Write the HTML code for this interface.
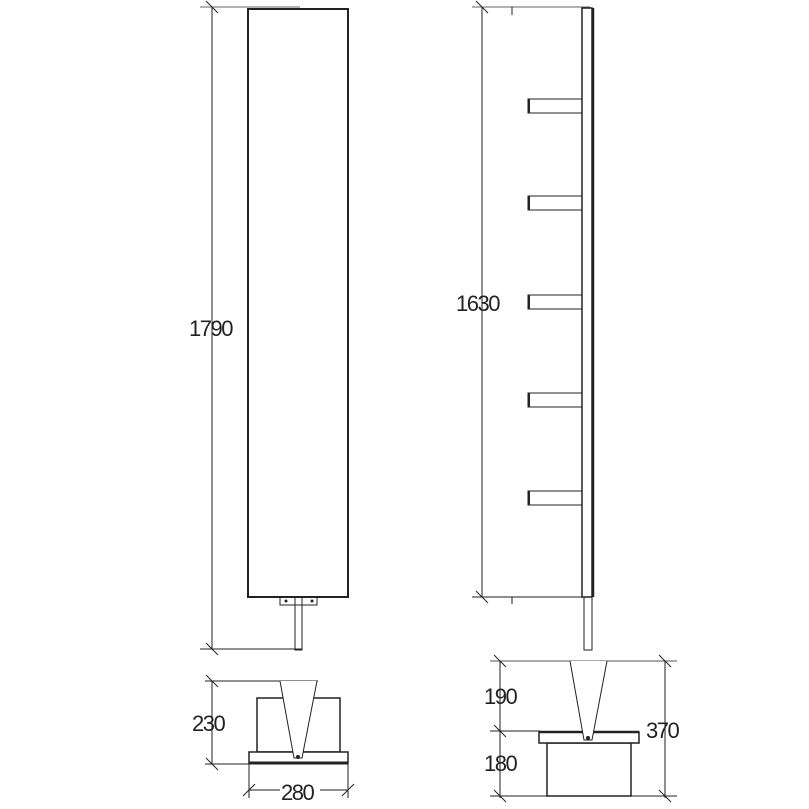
<!DOCTYPE html>
<html><head><style>body{margin:0;background:#fff}svg{display:block}text{font-family:"Liberation Sans",sans-serif;font-size:22px;fill:#222;letter-spacing:-1.5px}</style></head><body>
<svg width="809" height="809" viewBox="0 0 809 809" xmlns="http://www.w3.org/2000/svg">
<g stroke="#222" fill="none" stroke-width="1">
<line x1="200" y1="7" x2="300" y2="7" stroke="#666"/>
<line x1="212" y1="7" x2="212" y2="649"/>
<line x1="200" y1="649" x2="302" y2="649"/>
<line x1="206" y1="1" x2="218" y2="13"/><line x1="206" y1="643" x2="218" y2="655"/>
<rect x="248" y="9" width="100" height="588" stroke-width="2"/>
<rect x="280" y="597" width="37" height="8"/>
<rect x="295" y="597" width="7" height="53"/>
<line x1="205" y1="681" x2="318" y2="681"/>
<line x1="212" y1="681" x2="212" y2="764"/>
<line x1="205" y1="764" x2="250" y2="764"/>
<line x1="206" y1="675" x2="218" y2="687"/><line x1="206" y1="758" x2="218" y2="770"/>
<rect x="257" y="698" width="83" height="54" stroke-width="1.5"/>
<rect x="249" y="752" width="99" height="11" fill="#fff" stroke-width="1.5"/>
<line x1="249" y1="763" x2="348" y2="763" stroke-width="3"/>
<path d="M280 681 L294 758 L302 758 L317 681" fill="#fff"/>
<line x1="249" y1="763" x2="249" y2="798"/><line x1="348" y1="763" x2="348" y2="798"/>
<line x1="249" y1="790" x2="280" y2="790"/><line x1="318" y1="790" x2="348" y2="790"/>
<line x1="243" y1="796" x2="255" y2="784"/><line x1="342" y1="796" x2="354" y2="784"/>
<line x1="472" y1="7" x2="590" y2="7" stroke="#666"/>
<line x1="482" y1="7" x2="482" y2="597"/>
<line x1="472" y1="597" x2="584" y2="597"/>
<line x1="476" y1="1" x2="488" y2="13"/><line x1="476" y1="591" x2="488" y2="603"/>
<line x1="512" y1="7" x2="512" y2="15"/><line x1="512" y1="597" x2="512" y2="604"/>
<rect x="582" y="8" width="10" height="589" stroke-width="1.5"/>
<line x1="593" y1="8" x2="593" y2="597" stroke-width="2.5"/>
<rect x="528" y="99" width="54" height="14"/>
<rect x="528" y="196" width="54" height="14"/>
<rect x="528" y="295" width="54" height="14"/>
<rect x="528" y="393" width="54" height="14"/>
<rect x="528" y="491" width="54" height="14"/>
<g stroke-width="2"><line x1="529" y1="99" x2="529" y2="113"/><line x1="529" y1="196" x2="529" y2="210"/><line x1="529" y1="295" x2="529" y2="309"/><line x1="529" y1="393" x2="529" y2="407"/><line x1="529" y1="491" x2="529" y2="505"/></g>
<rect x="584" y="597" width="8" height="53"/>
<line x1="490" y1="661" x2="677" y2="661" stroke="#555"/>
<line x1="490" y1="796" x2="677" y2="796"/>
<line x1="490" y1="731" x2="540" y2="731"/>
<line x1="500" y1="661" x2="500" y2="798"/>
<line x1="665" y1="661" x2="665" y2="798"/>
<line x1="494" y1="655" x2="506" y2="667"/><line x1="494" y1="725" x2="506" y2="737"/><line x1="494" y1="790" x2="506" y2="802"/>
<line x1="659" y1="655" x2="671" y2="667"/><line x1="659" y1="790" x2="671" y2="802"/>
<rect x="547" y="743" width="84" height="53" stroke-width="1.5"/>
<rect x="539" y="732" width="100" height="11" fill="#fff" stroke-width="1.5"/>
<line x1="539" y1="732" x2="639" y2="732" stroke-width="2.5"/>
<path d="M570 661 L584 740 L592 740 L607 661" fill="#fff"/>
</g>
<circle cx="286" cy="601" r="1.5" fill="#222"/><circle cx="312" cy="601" r="1.5" fill="#222"/>
<circle cx="298" cy="757" r="2" fill="#222"/><circle cx="588" cy="738" r="2" fill="#222"/>
<text x="189" y="336">1790</text>
<text x="456" y="311">1630</text>
<text x="192" y="731">230</text>
<rect x="280" y="781" width="40" height="20" fill="#fff"/>
<text x="281" y="800">280</text>
<text x="484" y="704">190</text>
<text x="484" y="771">180</text>
<text x="646" y="738">370</text>
</svg>
</body></html>
